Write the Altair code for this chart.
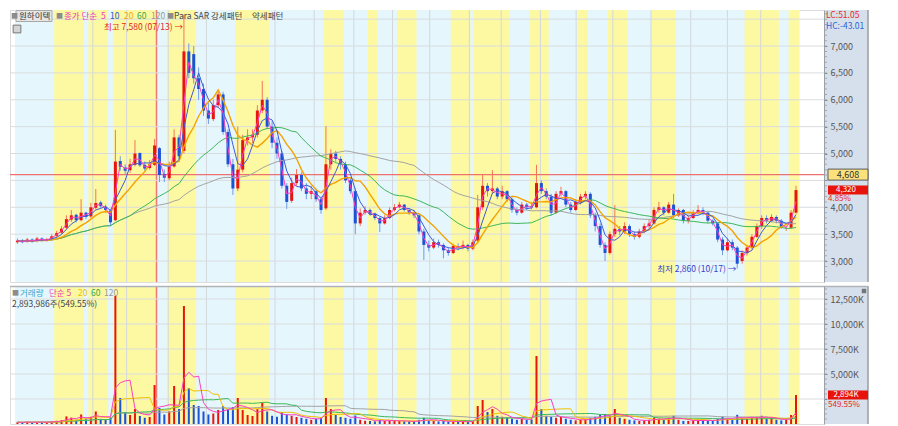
import altair as alt
import pandas as pd

# ---------------- data (~2.6 trading days per candle) ----------------
opens = [3350,3390,3360,3400,3370,3420,3380,3410,3470,3530,
         3620,3770,3860,3760,3900,3830,3990,4090,4010,3940,
         3760,4860,4740,4690,4790,5010,4790,4730,4790,5100,
         4620,4540,4760,5300,5050,6900,6850,6400,6200,5800,
         5640,5900,6100,5400,4800,4350,4700,5250,5300,5350,
         5800,6000,5500,5200,5000,4400,4120,4450,4600,4350,
         4250,4300,4150,3980,4800,5000,4900,4800,4500,4300,
         3700,3900,3950,3880,3800,3700,3800,3950,4000,4050,
         3950,3900,3850,3550,3300,3250,3350,3300,3200,3150,
         3280,3250,3300,3230,3380,4000,4400,4300,4350,4200,
         4300,4150,3950,3900,4050,4020,4000,4450,4300,4200,
         3900,4250,4300,4050,3950,4100,4200,4250,3850,3650,
         3300,3150,3500,3600,3550,3650,3500,3450,3550,3650,
         3700,3950,4000,3900,4050,3850,3950,3750,3800,3900,
         3950,3900,3750,3700,3400,3200,3350,3250,3000,3150,
         3250,3450,3650,3800,3750,3820,3750,3620,3620,3900]
highs = [3420,3410,3430,3420,3450,3440,3430,3500,3560,3650,
         3850,3950,3880,4150,3920,4080,4340,4120,4050,3960,
         5440,4950,4800,4900,5250,5020,4850,4880,5270,5120,
         4700,4850,5450,5350,7580,7050,7000,6600,6300,5950,
         6000,6180,6150,5450,4900,5500,5350,5450,5450,5900,
         6350,6050,5600,5300,5050,4450,4550,4710,4650,4450,
         4400,4350,4200,5510,5080,5050,4950,4850,4550,4350,
         3980,4020,3980,3900,3820,3850,4000,4060,4100,4060,
         3980,3950,3870,3600,3380,3420,3400,3330,3250,3320,
         3330,3380,3320,3400,4230,4620,4450,4690,4380,4400,
         4320,4180,4000,4100,4080,4100,4790,4500,4350,4250,
         4300,4380,4320,4100,4150,4250,4300,4280,3900,3700,
         3350,3550,4040,3650,3720,3680,3550,3600,3700,3780,
         4000,4100,4020,4100,4250,3980,3970,3850,3950,4040,
         4000,3920,3780,3720,3450,3420,3400,3280,3200,3300,
         3500,3700,3850,3850,3870,3850,3780,3660,3950,4400]
lows = [3320,3330,3340,3340,3350,3360,3360,3390,3440,3500,
        3590,3730,3720,3740,3780,3800,3960,3980,3900,3650,
        3740,4680,4620,4640,4760,4750,4680,4700,4770,4470,
        4470,4500,4740,4900,5000,6400,6300,6000,5700,5550,
        5600,5850,5350,4750,4230,4300,4650,5150,5200,5300,
        5750,5450,5100,4900,4350,3970,4080,4400,4300,4150,
        4150,4100,3880,3950,4700,4850,4700,4450,4250,3500,
        3650,3860,3850,3760,3540,3680,3780,3920,3980,3920,
        3860,3800,3500,3020,3180,3220,3250,3050,3100,3130,
        3200,3220,3180,3200,3350,3950,4200,4250,4150,4150,
        4100,3900,3850,3880,3950,3960,3980,4250,4150,3850,
        3880,4200,4000,3900,3930,4050,4150,3800,3550,3250,
        3000,3120,3450,3480,3500,3450,3400,3420,3520,3600,
        3680,3900,3850,3880,3800,3820,3700,3700,3780,3870,
        3850,3700,3660,3350,3110,3180,3200,2860,2950,3100,
        3220,3430,3600,3700,3720,3700,3600,3560,3600,3880]
closes = [3380,3350,3400,3360,3420,3380,3400,3460,3520,3600,
          3780,3850,3760,3900,3820,4000,4080,4020,3950,3720,
          4850,4750,4680,4800,5000,4780,4720,4800,5150,4600,
          4550,4750,5300,4950,6900,6500,6400,6200,5800,5650,
          5900,6100,5400,4800,4350,4700,5250,5300,5350,5800,
          6000,5500,5200,5000,4400,4100,4450,4600,4350,4250,
          4300,4150,3950,4800,5000,4900,4800,4500,4300,3700,
          3900,3950,3880,3800,3700,3800,3950,4000,4050,3950,
          3900,3850,3550,3300,3250,3350,3300,3200,3150,3280,
          3250,3300,3230,3350,4000,4400,4300,4350,4200,4300,
          4150,3950,3900,4050,4000,4000,4450,4300,4200,3900,
          4250,4300,4050,3950,4100,4200,4250,3850,3650,3300,
          3150,3500,3600,3550,3650,3500,3450,3550,3650,3700,
          3950,4000,3900,4050,3850,3950,3750,3800,3900,3950,
          3900,3750,3700,3400,3200,3350,3250,2950,3150,3250,
          3450,3650,3800,3750,3820,3750,3620,3620,3900,4320]
volumes_k = [180,150,220,160,200,170,190,260,320,380,
             760,640,420,950,480,720,1250,520,430,650,
             12800,2600,1200,900,1500,800,620,700,3900,1600,
             950,1250,3800,1500,11800,3600,1900,1800,1250,950,
             1050,1400,1800,1500,1700,2600,1400,900,800,1500,
             2100,1250,820,720,1200,950,820,700,620,520,
             420,520,620,2600,1500,900,700,620,520,850,
             420,320,300,260,420,300,360,320,300,260,
             260,230,420,620,360,300,260,310,260,230,
             210,260,210,320,1800,2400,1200,1500,820,720,
             620,520,420,520,420,460,6800,1500,820,720,
             620,720,520,420,360,420,460,620,720,920,
             1000,820,1500,620,520,420,360,310,360,420,
             620,520,420,620,820,420,310,310,360,420,
             310,360,310,520,720,520,420,920,620,520,
             620,720,820,520,620,420,360,420,900,2894]

band_start = [8, 15, 20, 31, 45, 63, 72, 78, 89, 93.6, 105, 115, 121, 130, 149, 158]
band_end = [14, 19, 29, 37, 52, 67, 74, 82, 93, 101, 109, 117, 125, 135, 156, 160.2]
month_lines = [15.9, 22.8, 31.3, 39.1, 53.1, 61.1, 69.2, 77.1, 84.7, 92.8, 99.3,
               107.3, 114.6, 122.1, 129.9, 138.0, 145.5, 152.3]
price_ticks = [3000, 3500, 4000, 4500, 5000, 5500, 6000, 6500, 7000]
price_grid = [3000, 3500, 4000, 4500, 5000, 5500, 6000, 6500, 7000, 7500]
price_minor = [2700, 2800, 2900, 3000, 3100, 3200, 3300, 3400, 3500, 3600, 3700, 3800, 3900,
               4000, 4100, 4200, 4300, 4400, 4500, 4600, 4700, 4800, 4900, 5000, 5100, 5200,
               5300, 5400, 5500, 5600, 5700, 5800, 5900, 6000, 6100, 6200, 6300, 6400, 6500,
               6600, 6700, 6800, 6900, 7000, 7100, 7200, 7300, 7400, 7500, 7600]
volume_ticks = [2500, 5000, 7500, 10000, 12500]
volume_minor = [500, 1000, 1500, 2000, 2500, 3000, 3500, 4000, 4500, 5000, 5500, 6000, 6500,
                7000, 7500, 8000, 8500, 9000, 9500, 10000, 10500, 11000, 11500, 12000, 12500,
                13000, 13500]
cross_t = [28.9]
cross_price = [4608]

# ---------------- layout ----------------
W, H1, H2 = 814, 272, 138
FONT = "Noto Sans CJK KR"
UP, DOWN = "#e8150e", "#1c52d6"
UPW, DOWNW = "#f2765a", "#6f9be3"
BLUE_BG, YELLOW = "#e5f6fd", "#fdf8a2"
PANEL = "#d6e0ec"

n = len(closes)
df = pd.DataFrame({"t": [i + 0.5 for i in range(n)], "open": opens, "high": highs,
                   "low": lows, "close": closes, "vol": volumes_k})
bands = pd.DataFrame({"s": band_start, "e": band_end})
months = pd.DataFrame({"t": month_lines})
ONE = pd.DataFrame({"k": [0]})

xs = alt.Scale(domain=[0, 164.2], nice=False, zero=False)
ps = alt.Scale(domain=[2610, 7670], nice=False, zero=False)
vs = alt.Scale(domain=[0, 13800], nice=False, zero=True)

price_axis = alt.Axis(orient="right", values=price_ticks, grid=False, title=None,
                      labelExpr="datum.value == 4500 ? '' : format(datum.value, ',')",
                      domainColor="#9aa0a6", tickColor="#8a9098", tickSize=3,
                      labelColor="#555555", labelFont=FONT, labelFontSize=9,
                      labelPadding=3, zindex=1)
vol_axis = alt.Axis(orient="right", values=volume_ticks, grid=False, title=None,
                    labelExpr="datum.value == 2500 ? '' : format(datum.value, ',') + 'K'",
                    domainColor="#9aa0a6", tickColor="#8a9098", tickSize=3,
                    labelColor="#555555", labelFont=FONT, labelFontSize=9,
                    labelPadding=3, zindex=1)


def X(f):
    return alt.X(f, scale=xs, axis=None)


def PY(f):
    return alt.Y(f, scale=ps, axis=price_axis)


def VY(f):
    return alt.Y(f, scale=vs, axis=vol_axis)


def label(text, x, y, color, size=8.5, align="left"):
    return alt.Chart(ONE).mark_text(text=text, color=color, fontSize=size, align=align,
                                    baseline="middle", font=FONT).encode(
        x=alt.value(x), y=alt.value(y))


def backdrop(h):
    bg = alt.Chart(pd.DataFrame({"s": [0], "e": [160.2]})).mark_rect(color=BLUE_BG).encode(
        x=X("s:Q"), x2="e:Q")
    yb = alt.Chart(bands).mark_rect(color=YELLOW).encode(x=X("s:Q"), x2="e:Q")
    vg = alt.Chart(months).mark_rule(color="#d3d8dc", strokeWidth=1).encode(x=X("t:Q"))
    vline = alt.Chart(pd.DataFrame({"t": cross_t})).mark_rule(
        color="#f07a72", strokeWidth=1.5).encode(x=X("t:Q"))
    return [bg, yb, vg, vline]


def side_panel(h):
    panel = alt.Chart(ONE).mark_rect(fill=PANEL).encode(
        x=alt.value(W + 1), x2=alt.value(W + 44), y=alt.value(0), y2=alt.value(h))
    border = alt.Chart(ONE).mark_rule(color="#9c9c9c", strokeWidth=1.5).encode(
        x=alt.value(W + 44), y=alt.value(0), y2=alt.value(h))
    return [panel, border]


def ma(field, win, color, yfun, width=1.0):
    return alt.Chart(df).transform_window(
        m=f"mean({field})", frame=[-(win - 1), 0], sort=[alt.SortField("t")]
    ).mark_line(color=color, strokeWidth=width).encode(x=X("t:Q"), y=yfun("m:Q"))


updown = "datum.close >= datum.open"

# ---------------- price panel ----------------
hgrid = alt.Chart(pd.DataFrame({"p": price_grid})).mark_rule(
    color="#d9dcdf", strokeWidth=1).encode(y=PY("p:Q"))
hline = alt.Chart(pd.DataFrame({"p": cross_price})).mark_rule(
    color="#ef7070", strokeWidth=1.2).encode(y=PY("p:Q"))
wick = alt.Chart(df).mark_rule(strokeWidth=1).encode(
    x=X("t:Q"), y=PY("low:Q"), y2="high:Q",
    color=alt.condition(updown, alt.value(UPW), alt.value(DOWNW)))
body = alt.Chart(df).mark_bar(size=3).encode(
    x=X("t:Q"), y=PY("open:Q"), y2="close:Q",
    color=alt.condition(updown, alt.value(UP), alt.value(DOWN)))

i_hi = highs.index(max(highs))
i_lo = lows.index(min(lows))
hi_txt = alt.Chart(pd.DataFrame({"t": [i_hi + 0.5], "p": [highs[i_hi]]})).mark_text(
    text="최고 7,580 (07/13) →", align="right", baseline="middle", dx=-1, dy=12,
    color="#e3261c", fontSize=8.5, font=FONT).encode(x=X("t:Q"), y=PY("p:Q"))
lo_txt = alt.Chart(pd.DataFrame({"t": [i_lo + 0.5], "p": [lows[i_lo]]})).mark_text(
    text="최저 2,860 (10/17) →", align="right", baseline="middle", dx=-1, dy=0,
    color="#3a3ccc", fontSize=8.5, font=FONT).encode(x=X("t:Q"), y=PY("p:Q"))

pminor = alt.Chart(pd.DataFrame({"p": price_minor})).mark_tick(
    color="#8a9098", thickness=1, size=2).encode(x=alt.value(W + 2), y=PY("p:Q"))

box_path_a = "M-1,-0.275L1,-0.275L1,0.275L-1,0.275Z"
box_path_b = "M-1,-0.225L1,-0.225L1,0.225L-1,0.225Z"
cross_df = pd.DataFrame({"p": cross_price})
last_df = pd.DataFrame({"p": [closes[-1]]})
cross_box = alt.Chart(cross_df).mark_point(
    shape=box_path_a, size=1600, filled=True, fill="#fde27c", stroke="#5a5a5a",
    strokeWidth=1, opacity=1).encode(x=alt.value(W + 24), y=PY("p:Q"))
cross_lbl = alt.Chart(cross_df).mark_text(
    fontSize=9, font=FONT, color="#333333", align="center", baseline="middle").encode(
    x=alt.value(W + 24), y=PY("p:Q"), text=alt.Text("p:Q", format=","))
last_box = alt.Chart(last_df).mark_point(
    shape=box_path_b, size=1600, filled=True, fill="#e8140c", strokeWidth=0,
    opacity=1).encode(x=alt.value(W + 24), y=PY("p:Q"))
last_lbl = alt.Chart(last_df).mark_text(
    fontSize=8, font=FONT, color="white", align="center", baseline="middle").encode(
    x=alt.value(W + 22), y=PY("p:Q"), text=alt.Text("p:Q", format=","))
last_pct = alt.Chart(last_df).mark_text(
    text="4.85%", fontSize=8, font=FONT, color="#e8281e", align="left",
    baseline="middle", dy=9).encode(x=alt.value(W + 4), y=PY("p:Q"))

name_box = alt.Chart(ONE).mark_rect(fill="#e6e6e6", stroke="#a8a8a8", strokeWidth=1).encode(
    x=alt.value(6), x2=alt.value(42), y=alt.value(0.5), y2=alt.value(11.5))
icon = alt.Chart(ONE).mark_square(size=60, fill="#d4d4d4", stroke="#777777",
                                  strokeWidth=1, opacity=1).encode(
    x=alt.value(7), y=alt.value(19))

price_legend = [
    name_box, icon,
    label("■", 1, 6, "#8c8c8c", 7),
    label("원하이텍", 9, 6, "#333333"),
    label("■", 46, 6, "#8c8c8c", 7),
    label("종가 단순", 54, 6, "#ee3cb8"),
    label("5", 91, 6, "#ee3cb8"),
    label("10", 100, 6, "#2f55d4"),
    label("20", 114, 6, "#f0aa00"),
    label("60", 127, 6, "#33aa44"),
    label("120", 141, 6, "#999999"),
    label("■", 157, 6, "#8c8c8c", 7),
    label("Para SAR 강세패턴", 164, 6, "#444444"),
    label("약세패턴", 242, 6, "#444444"),
    label("LC:51.05", W + 2, 5, "#e8281e", 8.5),
    label("HC:-43.01", W + 2, 16, "#2c64d8", 8.5),
]

price = alt.layer(
    *backdrop(H1), hgrid, hline,
    wick, body,
    ma("close", 48, "#a3a3a3", PY), ma("close", 24, "#3cb85a", PY),
    ma("close", 8, "#f5a300", PY, 1.4), ma("close", 4, "#3d5bd9", PY),
    ma("close", 2, "#ff3fc0", PY),
    hi_txt, lo_txt,
    *side_panel(H1), pminor,
    cross_box, cross_lbl, last_box, last_lbl, last_pct,
    *price_legend,
).properties(width=W, height=H1)

# ---------------- volume panel ----------------
vgrid_h = alt.Chart(pd.DataFrame({"v": volume_ticks})).mark_rule(
    color="#d9dcdf", strokeWidth=1).encode(y=VY("v:Q"))
vbars = alt.Chart(df).mark_bar(size=2).encode(
    x=X("t:Q"), y=VY("vol:Q"),
    color=alt.condition(updown, alt.value(UP), alt.value(DOWN)))
vminor = alt.Chart(pd.DataFrame({"v": volume_minor})).mark_tick(
    color="#8a9098", thickness=1, size=2).encode(x=alt.value(W + 2), y=VY("v:Q"))
vlast = pd.DataFrame({"v": [volumes_k[-1]]})
vbox = alt.Chart(vlast).mark_point(
    shape=box_path_b, size=1600, filled=True, fill="#e8140c", strokeWidth=0,
    opacity=1).encode(x=alt.value(W + 24), y=VY("v:Q"))
vlbl = alt.Chart(vlast).transform_calculate(
    lbl="format(datum.v, ',') + 'K'").mark_text(
    fontSize=8, font=FONT, color="white", align="center", baseline="middle").encode(
    x=alt.value(W + 22), y=VY("v:Q"), text="lbl:N")
vpct = alt.Chart(vlast).mark_text(
    text="549.55%", fontSize=8, font=FONT, color="#e8281e", align="left",
    baseline="middle", dy=10).encode(x=alt.value(W + 4), y=VY("v:Q"))
divider = alt.Chart(ONE).mark_rule(color="#b0b4b8", strokeWidth=1.5).encode(
    x=alt.value(0), x2=alt.value(W + 44), y=alt.value(0.5))
vicon = alt.Chart(ONE).mark_square(size=20, fill="#777777", opacity=1).encode(
    x=alt.value(W + 40), y=alt.value(5))

vol_legend = [
    label("■", 2, 7, "#8c8c8c", 7),
    label("거래량", 10, 7, "#3aa6d0"),
    label("단순 5", 39, 7, "#ee3cb8"),
    label("20", 68, 7, "#e8c400"),
    label("60", 81, 7, "#33aa44"),
    label("120", 94, 7, "#999999"),
    label("2,893,986주(549.55%)", 2, 18, "#444444"),
]

volume = alt.layer(
    *backdrop(H2), vgrid_h, vbars,
    ma("vol", 48, "#a3a3a3", VY), ma("vol", 24, "#3cb85a", VY),
    ma("vol", 8, "#f0c000", VY), ma("vol", 4, "#ff3fc0", VY),
    *side_panel(H2), vminor, vbox, vlbl, vpct, divider, vicon,
    *vol_legend,
).properties(width=W, height=H2)

chart = alt.vconcat(price, volume, spacing=0).properties(padding=0).configure_view(
    strokeWidth=0).configure(font=FONT, background="white")

chart.save("out.html", embed_options={"renderer": "svg", "actions": False})
